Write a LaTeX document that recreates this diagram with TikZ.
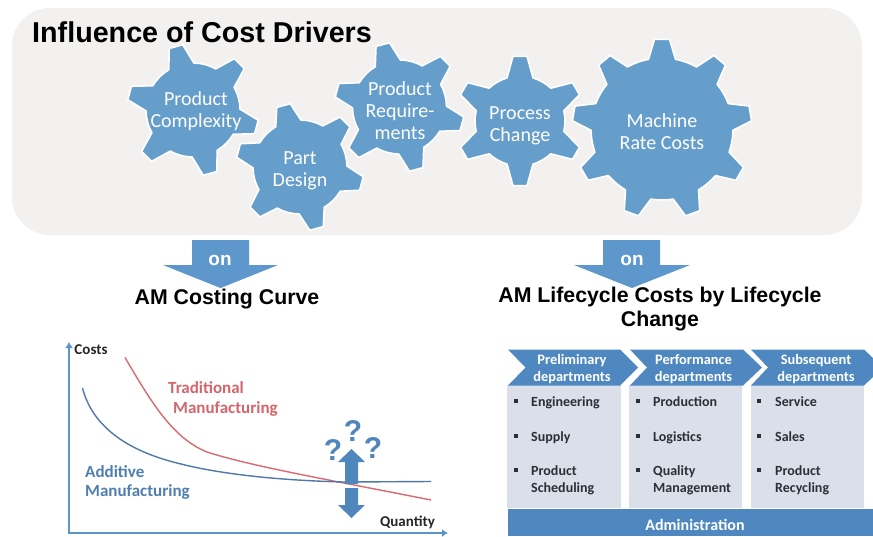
\documentclass[tikz,border=0pt]{standalone}
\usepackage{fontspec}
\usetikzlibrary{arrows.meta}
\setmainfont{Liberation Sans}
\newfontfamily\carl{Carlito}
\newcommand{\fsz}[1]{\fontsize{#1}{#1}\selectfont}
\definecolor{gearblue}{HTML}{659DCB}
\definecolor{panelgray}{HTML}{F2F1F0}
\definecolor{arrowblue}{HTML}{5E97CC}
\definecolor{axisblue}{HTML}{5A96CC}
\definecolor{redline}{HTML}{DB6A70}
\definecolor{blueline}{HTML}{5078A8}
\definecolor{redtext}{HTML}{D5656C}
\definecolor{bluetext}{HTML}{4F7FB0}
\definecolor{qblue}{HTML}{4F86BC}
\definecolor{headblue}{HTML}{4F88C0}
\definecolor{colfill}{HTML}{DADFEA}
\definecolor{itemtext}{HTML}{2B2F36}
\tikzset{
  x=1pt,y=-1pt,
  geartext/.style={text=white,font=\carl\fsz{20},align=center,inner sep=0pt},
  onarrow/.style={fill=arrowblue,draw=none},
  ontext/.style={text=white,font=\bfseries\fsz{19},inner sep=0pt},
  heading/.style={font=\bfseries\fsz{21.3},align=center,inner sep=0pt,text=black},
  head/.style={text=white,font=\carl\bfseries\fsz{14.4},align=center,inner sep=0pt},
  item/.style={text=itemtext,font=\carl\bfseries\fsz{14},align=left,inner sep=0pt,anchor=north west},
  bull/.style={fill=itemtext,minimum size=3.5pt,inner sep=0pt,draw=none,rectangle},
  chev/.style={fill=headblue,draw=none},
  col/.style={fill=colfill,draw=none},
  curvelabel/.style={font=\carl\bfseries\fsz{17},align=left,inner sep=0pt,anchor=west},
  q/.style={text=qblue,font=\bfseries\fsz{30},inner sep=0pt},
  axislab/.style={font=\carl\bfseries\fsz{15},text=black!85,inner sep=0pt},
}
% #1 cx, #2 cy, #3 body radius, #4 outer radius, #5 teeth, #6 first tooth angle, #7 tip half width, #8 base half width
\newcommand{\gearat}[8]{%
  \begin{scope}[shift={(#1,#2)},x=1pt,y=1pt]
    \pgfmathsetmacro{\pit}{360/#5}
    \pgfmathsetmacro{\dtip}{asin(#7/#4)}
    \pgfmathsetmacro{\dbas}{asin(#8/#3)}
    \pgfmathsetmacro{\sta}{#6+\dbas}
    \pgfmathtruncatemacro{\lastk}{#5-1}
    \draw[fill=gearblue,draw=white,line width=1.6pt,line join=round]
      (\sta:#3)
      \foreach \k [evaluate=\k as \ab using #6-\k*\pit+\dtip,
                   evaluate=\k as \ac using #6-\k*\pit-\dtip,
                   evaluate=\k as \ad using #6-\k*\pit-\dbas,
                   evaluate=\k as \ae using #6-(\k+1)*\pit+\dbas] in {0,...,\lastk} {
        -- (\ab:#4) -- (\ac:#4) -- (\ad:#3)
        arc[start angle=\ad,end angle=\ae,radius=#3]
      } -- cycle;
  \end{scope}}
\begin{document}
\begin{tikzpicture}
\useasboundingbox (0,0) rectangle (873,536);
\fill[white] (0,0) rectangle (873,536);
\fill[panelgray,rounded corners=38pt] (12,8) rectangle (862,235);
\node[anchor=base west,font=\bfseries\fsz{28.7},inner sep=0pt] (title) at (32,42.5) {Influence of Cost Drivers};

\gearat{193}{110}{47}{66}{6}{105}{7}{13}
\gearat{399.5}{107}{47}{65}{6}{105}{7}{13}
\gearat{300}{167}{47}{64}{6}{105}{7}{13}
\gearat{520}{121}{45}{65}{6}{90}{7}{13}
\gearat{662}{129}{71}{90}{9}{90}{7.5}{13.5}
\node[geartext] (g1) at (196,111) {Product\\[2pt]Complexity};
\node[geartext] (g2) at (300,171) {Part\\[2pt]Design};
\node[geartext] (g3) at (400,110.5) {Product\\[2pt]Require-\\[2pt]ments};
\node[geartext] (g4) at (520,125.5) {Process\\[2pt]Change};
\node[geartext] (g5) at (662,131.5) {Machine\\[2pt]Rate Costs};

\fill[onarrow] (192,240) -- (249,240) -- (249,265) -- (278,265) -- (220.5,288) -- (163,265) -- (192,265) -- cycle;
\fill[onarrow] (603,240) -- (660,240) -- (660,265) -- (690,265) -- (632,288) -- (574,265) -- (603,265) -- cycle;
\node[ontext] (on1) at (220,260) {on};
\node[ontext] (on2) at (632,260) {on};
\node[heading] (h1) at (227,299.5) {AM Costing Curve};
\node[heading] (h2) at (660,309) {AM Lifecycle Costs by Lifecycle\\[3.5pt]Change};

% chart
\coordinate (origin) at (69,533);
\coordinate (ytop) at (69,342);
\coordinate (xend) at (448,533);
\draw[axisblue,line width=2.4pt,-{Latex[length=6pt,width=8pt]}] (origin) -- (ytop);
\draw[axisblue,line width=2.4pt,-{Latex[length=6pt,width=8pt]}] ([xshift=-1.2pt]origin) -- (xend);
\node[axislab] (costs) at (91,350) {Costs};
\node[axislab] (qty) at (407.5,522) {Quantity};
\draw[redline,line width=1.4pt] (125,357.5) .. controls (150,400) and (172,438) .. (207,452) .. controls (250,466) and (330,480) .. (431,500);
\draw[blueline,line width=1.4pt] (82.5,388) .. controls (92,425) and (125,450) .. (177,463) .. controls (215,473) and (270,480) .. (343,482) -- (431,481.5);
\node[curvelabel,text=redtext] (trad) at (168,387.5) {Traditional};
\node[curvelabel,text=redtext] (manu) at (173,408.5) {Manufacturing};
\node[curvelabel,text=bluetext] (add) at (85,471.5) {Additive};
\node[curvelabel,text=bluetext] (manb) at (85,491.5) {Manufacturing};
\fill[qblue] (345,484) -- (345,462) -- (338,462) -- (351.5,449) -- (365,462) -- (358,462) -- (358,484) -- cycle;
\fill[qblue] (345,488) -- (345,505) -- (338,505) -- (351.5,518) -- (365,505) -- (358,505) -- (358,488) -- cycle;
\node[q] (q1) at (333,450) {?};
\node[q] (q2) at (353,431) {?};
\node[q] (q3) at (373,448) {?};

% right panel
\fill[col] (507,385) rectangle (621,508);
\fill[col] (629,385) rectangle (742,508);
\fill[col] (751,385) rectangle (864,508);
\fill[chev] (508,349.5) -- (620,349.5) -- (638,367.5) -- (620,385.5) -- (508,385.5) -- (525.5,367.5) -- cycle;
\fill[chev] (630,349.5) -- (743,349.5) -- (762,367.5) -- (743,385.5) -- (630,385.5) -- (647,367.5) -- cycle;
\fill[chev] (751,349.5) -- (864,349.5) -- (873,358) -- (873,377) -- (864,385.5) -- (751,385.5) -- (768,367.5) -- cycle;
\fill[chev] (508,508.5) rectangle (873,536);
\node[head] (c1) at (572,369.5) {Preliminary\\[2.6pt]departments};
\node[head] (c2) at (693.5,369.5) {Performance\\[2.6pt]departments};
\node[head] (c3) at (816,369.5) {Subsequent\\[2.6pt]departments};
\node[head,font=\carl\bfseries\fsz{16}] (adm) at (695,524.5) {Administration};

\foreach \nm/\bx/\tx/\ty/\txt in {
  a1/516/531/396/Engineering,
  a2/516/531/431/Supply,
  a3/516/531/465/{Product\\[3.5pt]Scheduling},
  b1/638/653/396/Production,
  b2/638/653/431/Logistics,
  b3/638/653/465/{Quality\\[3.5pt]Management},
  d1/759/775/396/Service,
  d2/759/775/431/Sales,
  d3/759/775/465/{Product\\[3.5pt]Recycling}} {
  \node[item] (\nm) at (\tx,\ty) {\txt};
  \node[bull] (\nm b) at (\bx,\ty+5) {};
}
\end{tikzpicture}
\end{document}
